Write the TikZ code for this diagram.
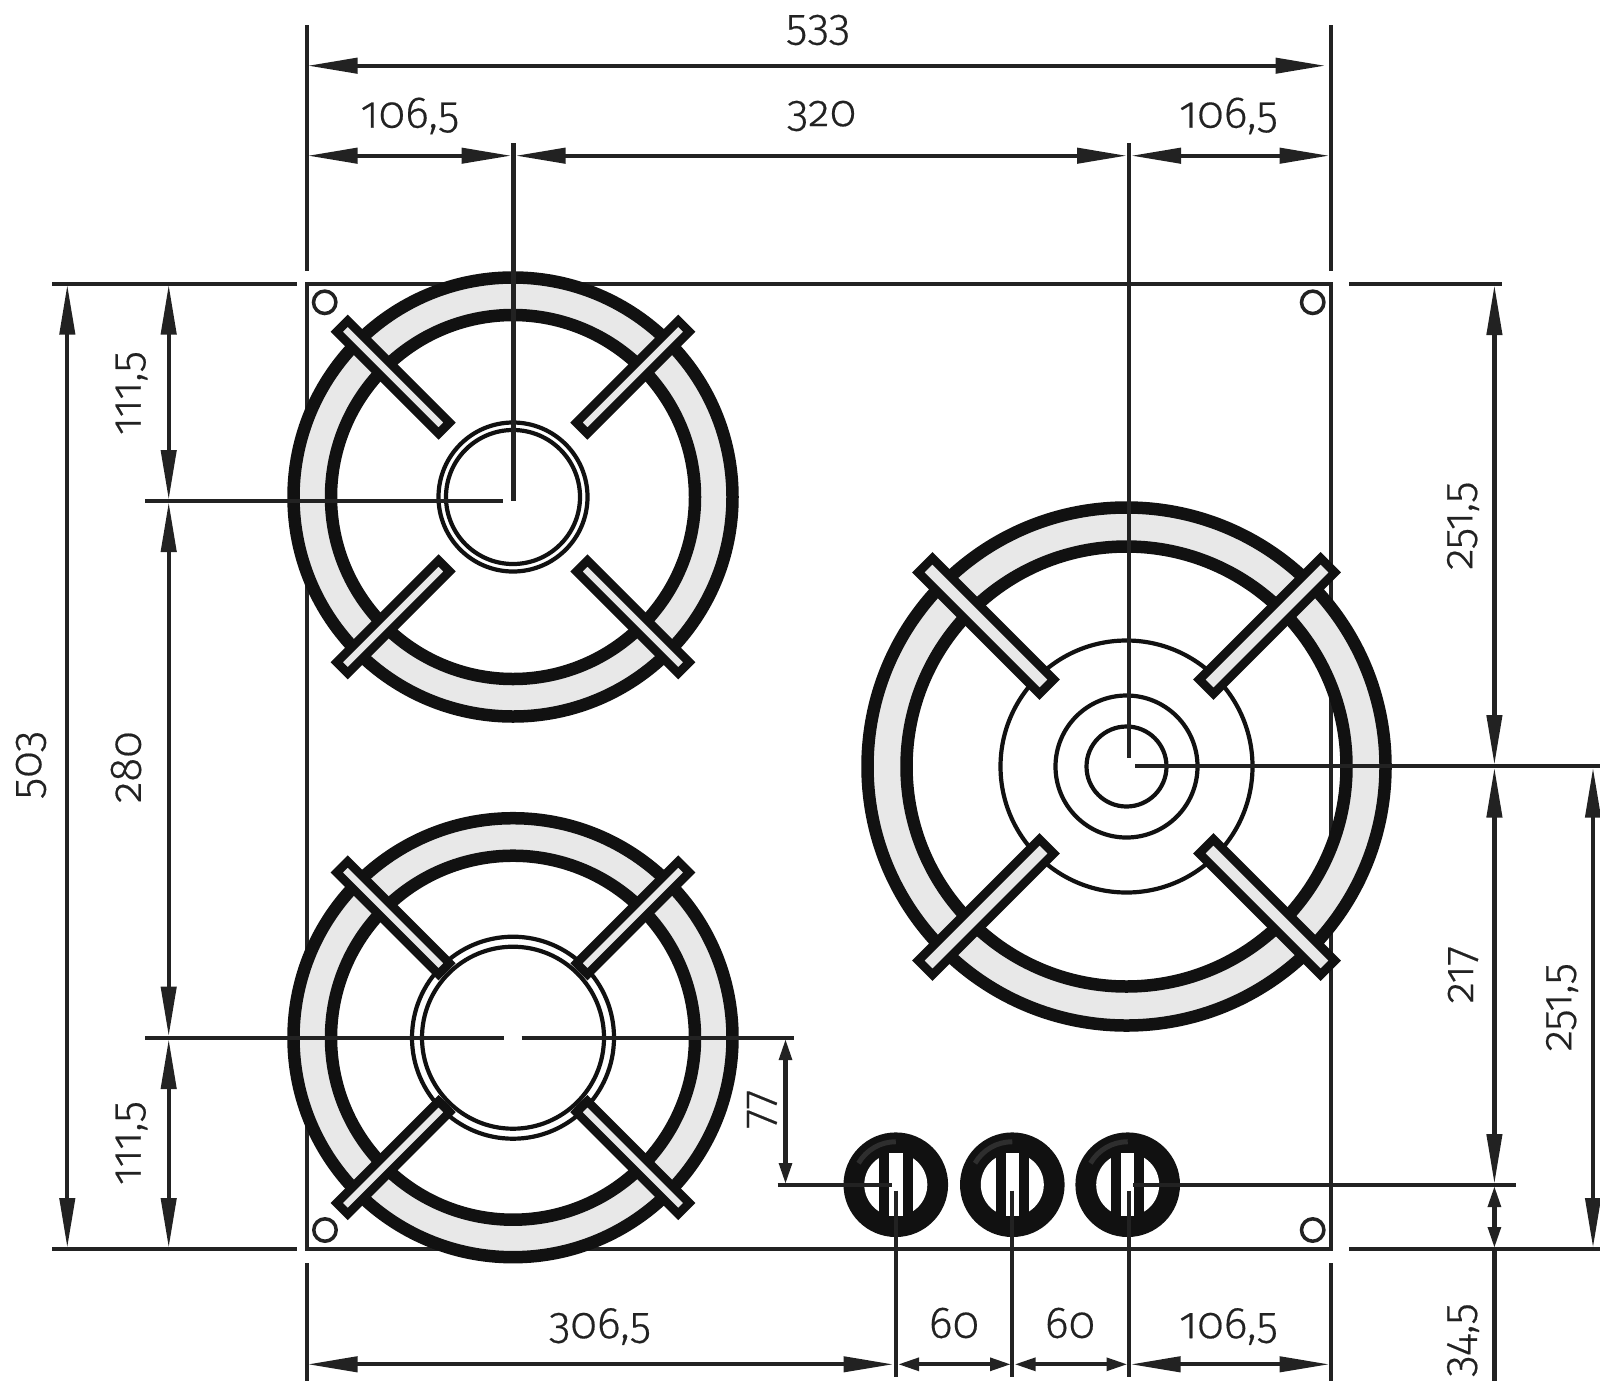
\documentclass[tikz,border=0pt]{standalone}
\usepackage{fontspec}
\setmainfont{Fira Sans}[Numbers=OldStyle,UprightFont=* Light,FakeBold=0.4]
\usetikzlibrary{arrows.meta}
\definecolor{ink}{HTML}{222222}
\definecolor{heavy}{HTML}{111111}
\definecolor{band}{HTML}{E8E8E8}
\tikzset{
  dimline/.style={draw=ink,line width=4.2pt},
  bigdim/.style={dimline,{Triangle[length=50pt,width=15pt]}-{Triangle[length=50pt,width=15pt]}},
  smalldim/.style={dimline,{Triangle[length=21pt,width=12.5pt]}-{Triangle[length=21pt,width=12.5pt]}},
  framing/.style={draw=ink,line width=4.4pt},
  ringblack/.style={draw=heavy,line width=12.5pt},
  thinring/.style={draw=heavy,line width=4.2pt},
  cornerring/.style={draw=ink,line width=3.5pt},
  barshape/.style={draw=heavy,fill=band,line width=8.7pt},
  lab/.style={text=ink,font=\fontsize{44.5}{44.5}\selectfont,inner sep=0pt},
  labv/.style={lab,rotate=90},
}
\newcommand{\pan}[4]{% cx cy outer inner
  \draw[band,line width=#3pt-#4pt] (#1,#2) circle ({(#3+#4)/2});
  \draw[ringblack] (#1,#2) circle (#3);
  \draw[ringblack] (#1,#2) circle (#4);
}
\newcommand{\grate}[5]{% cx cy r1 r2 width
  \foreach \ang in {45,135,225,315}{
    \draw[barshape,shift={(#1,#2)},rotate=\ang] (#3,{-#5/2}) rectangle (#4,{#5/2});
  }
}
\newcommand{\knob}[1]{%
  \fill[heavy] (#1,1184.7) circle (52.3);
  \fill[white] (#1,1184.7) circle (31.5);
  \fill[heavy] ({#1-16.7},1145) rectangle ({#1+16.7},1225);
  \fill[white] ({#1-6.7},1153) rectangle ({#1+6.7},1216.4);
  \draw[draw=black!82,line width=5pt,shift={(#1,1184.7)}] (0,-43) arc[start angle=-90,end angle=-150,radius=43];
}
\begin{document}
\begin{tikzpicture}[x=1pt,y=-1pt]
\path[use as bounding box,fill=white] (0,0) rectangle (1600,1382);
% plate outline
\draw[framing] (307,284) rectangle (1331,1248.7);
\foreach \cx/\cy in {324.7/302.3,1312.7/302.3,325/1230,1312.7/1230}{
  \draw[cornerring] (\cx,\cy) circle (11.2);
}
% small burner
\pan{513}{497}{219.5}{182}
\draw[thinring] (513,497) circle (74.5);
\draw[thinring] (513,497) circle (67);
\grate{513}{497}{97.5}{241.5}{15.5}
% medium burner
\pan{513}{1037.7}{219.5}{182}
\draw[thinring] (513,1037.7) circle (101);
\draw[thinring] (513,1037.7) circle (91);
\grate{513}{1037.7}{97.5}{241.5}{15.5}
% large burner
\pan{1126.5}{766.5}{259}{220}
\draw[thinring] (1126.5,766.5) circle (40);
\draw[thinring] (1126.5,766.5) circle (71);
\draw[thinring] (1126.5,766.5) circle (126);
\grate{1126.5}{766.5}{113}{284.5}{20}
% knobs
\knob{895.8}
\knob{1012.3}
\knob{1127.7}
% named points of the dimension system
\coordinate (c1) at (513.5,501);
% extension lines
\draw[dimline] (307,25) -- (307,271);
\draw[dimline] (1331,25) -- (1331,271);
\draw[dimline] (307,1263) -- (307,1381);
\draw[dimline] (1331,1263) -- (1331,1381);
\draw[framing] (52,284) -- (297,284);
\draw[framing] (1349,284) -- (1502,284);
\draw[framing] (52,1248.7) -- (297,1248.7);
\draw[framing] (1349,1248.7) -- (1600,1248.7);
\draw[dimline] (513.5,143) -- (c1);
\draw[dimline] (145,501) -- (503,501);
\draw[dimline] (145,1037.7) -- (504,1037.7);
\draw[dimline] (521.5,1037.7) -- (794,1037.7);
\draw[dimline] (1129,143) -- (1129,758.3);
\draw[dimline] (1135,766.3) -- (1600,766.3);
\draw[dimline] (777.5,1184.7) -- (892,1184.7);
\draw[dimline] (1133,1184.7) -- (1516,1184.7);
\draw[dimline] (895.7,1190.7) -- (895.7,1377);
\draw[dimline] (1012.3,1190.7) -- (1012.3,1377);
\draw[dimline] (1128.7,1190.7) -- (1128.7,1377);
\draw[dimline] (1494.4,1248.7) -- (1494.4,1381);
% dimension arrows
\draw[bigdim] (307.5,65.7) -- (1325.5,65.7);
\draw[bigdim] (307.5,155.7) -- (511.5,155.7);
\draw[bigdim] (515.5,155.7) -- (1127,155.7);
\draw[bigdim] (1131,155.7) -- (1329.5,155.7);
\draw[bigdim] (67.3,284.5) -- (67.3,1248);
\draw[bigdim] (168.7,284.5) -- (168.7,500);
\draw[bigdim] (168.7,502) -- (168.7,1036.5);
\draw[bigdim] (168.7,1039) -- (168.7,1248);
\draw[bigdim] (1494.4,285) -- (1494.4,765);
\draw[bigdim] (1494.4,767.5) -- (1494.4,1184);
\draw[smalldim] (1494.4,1186) -- (1494.4,1248);
\draw[bigdim] (1593,767.5) -- (1593,1248);
\draw[bigdim] (307.5,1364.3) -- (893.5,1364.3);
\draw[smalldim] (898,1364.3) -- (1011,1364.3);
\draw[smalldim] (1014.5,1364.3) -- (1127.5,1364.3);
\draw[bigdim] (1130.5,1364.3) -- (1329.5,1364.3);
\draw[smalldim] (785.5,1039) -- (785.5,1184);
% labels
\node[lab] (t533) at (818,30) {533};
\node[lab] (t1065a) at (410,116) {106,5};
\node[lab] (t320) at (821.5,116) {320};
\node[lab] (t1065b) at (1228.6,116) {106,5};
\node[labv] (t503) at (31,765) {503};
\node[labv] (t1115a) at (131.6,393) {111,5};
\node[labv] (t280) at (126,767) {280};
\node[labv] (t1115b) at (131.6,1143) {111,5};
\node[labv] (t2515a) at (1463,525.5) {251,5};
\node[labv] (t217) at (1463,974.5) {217};
\node[labv] (t2515b) at (1562,1007) {251,5};
\node[labv] (t345) at (1463,1340) {34,5};
\node[labv] (t77) at (762,1109) {77};
\node[lab] (t3065) at (600,1326.5) {306,5};
\node[lab] (t60a) at (954,1323) {60};
\node[lab] (t60b) at (1070,1323) {60};
\node[lab] (t1065c) at (1228.6,1326.5) {106,5};
\end{tikzpicture}
\end{document}
